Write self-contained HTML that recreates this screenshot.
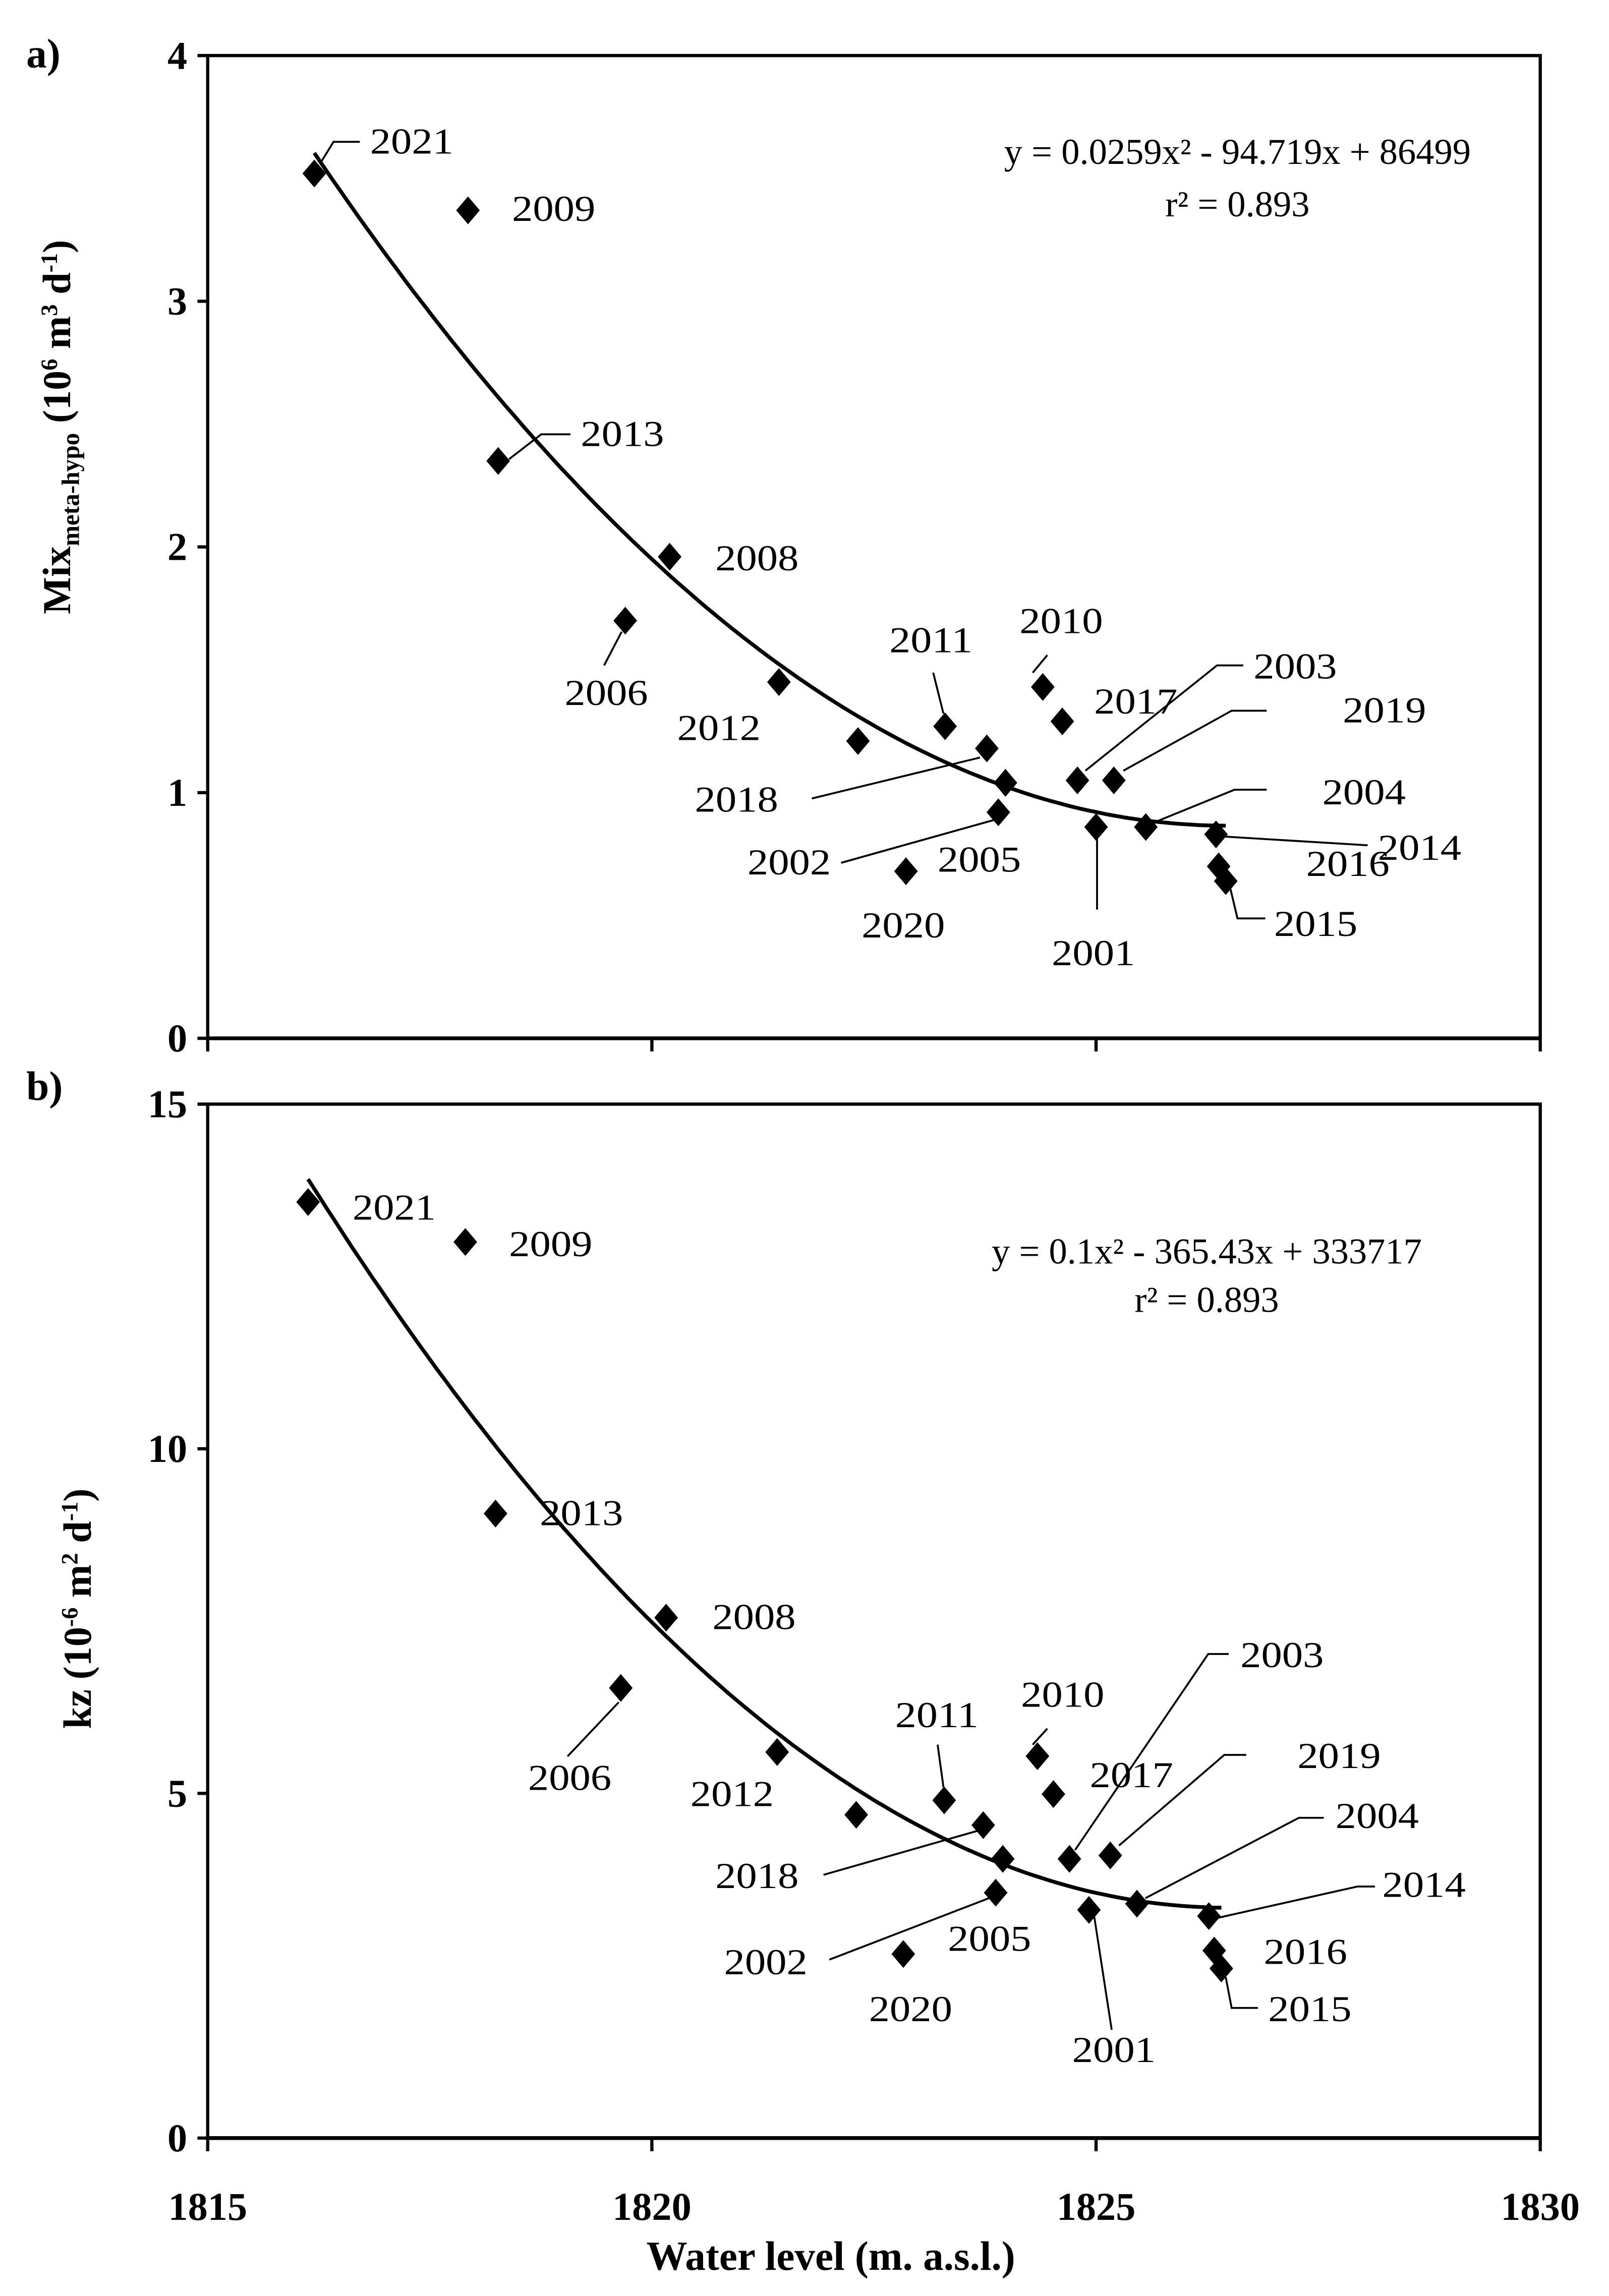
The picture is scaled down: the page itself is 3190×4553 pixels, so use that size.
<!DOCTYPE html>
<html><head><meta charset="utf-8"><style>
html,body{margin:0;padding:0;background:#fff}
svg{display:block}
text{font-family:"Liberation Serif",serif;fill:#000}
</style></head><body>
<svg id="chart" width="3190" height="4553" viewBox="0 0 1100 1570" xmlns="http://www.w3.org/2000/svg">
<g id="static" fill="none" stroke="#000" stroke-width="2.2">
<text x="18" y="46" font-size="28" font-weight="bold" stroke="none">a)</text>
<text x="18" y="752" font-size="28" font-weight="bold" stroke="none">b)</text>
</g>
<g id="gA"></g>
<g id="gB"></g>
</svg>
<script>
// x values (water level, m a.s.l.)
const years = ["2021","2009","2013","2008","2006","2012","u1","2011","2018","u2","2005","2020","2010","2017","2003","2019","2004","2001","2014","2016","2015"];
const xLevel = [1816.2,1817.93,1818.27,1820.2,1819.7,1821.43,1822.32,1823.3,1823.77,1823.98,1823.9,1822.86,1824.4,1824.62,1824.79,1825.2,1825.56,1825.0,1826.35,1826.38,1826.46];
const mixVals = [3.52,3.37,2.35,1.96,1.70,1.45,1.21,1.27,1.18,1.04,0.92,0.68,1.43,1.29,1.05,1.05,0.86,0.86,0.83,0.70,0.64];
const xLevelB = [1816.13,1817.9,1818.24,1820.16,1819.65,1821.41,1822.3,1823.29,1823.73,1823.95,1823.87,1822.83,1824.34,1824.52,1824.7,1825.16,1825.46,1824.92,1826.27,1826.33,1826.41];
const kzVals = [13.58,13.0,9.06,7.55,6.53,5.6,4.69,4.9,4.54,4.05,3.56,2.67,5.54,4.99,4.05,4.1,3.4,3.31,3.22,2.72,2.46];
const xTicks = [1815,1820,1825,1830];
const yTicksA = [0,1,2,3,4];
const yTicksB = [0,5,10,15];

const NS="http://www.w3.org/2000/svg";
function mk(parent,tag,attrs,txt){const e=document.createElementNS(NS,tag);for(const k in attrs)e.setAttribute(k,attrs[k]);if(txt!==undefined)e.textContent=txt;parent.appendChild(e);return e;}
const L=142,R=1053;
const xs=v=>L+(v-1815)/(1830-1815)*(R-L);

// layout of labels (pixel positions, not data)
const labA={"2021":[253,105,[[220,110],[228,97],[246,97]]],"2009":[350,151],"2013":[397,305,[[348,314],[370,297],[390,297]]],"2008":[489,390],"2006":[386,482,[[413,455],[425,432]]],"2012":[463,506],"2011":[608,446,[[638,460],[645,488]]],"2010":[697,433,[[706,460],[716,448]]],"2017":[748,488],"2003":[857,464,[[742,527],[832,455],[850,455]]],"2019":[918,494,[[768,527],[842,486],[866,486]]],"2004":[904,550,[[790,562],[844,540],[866,540]]],"2014":[942,588,[[836,572],[935,578]]],"2016":[893,599],"2015":[871,640,[[841,607],[846,628],[865,628]]],"2001":[719,660,[[750,568],[750,622]]],"2018":[475,555,[[555,546],[670,518]]],"2005":[641,596,[[575,590],[682,560]]],"2020":[589,641]};
const labA2={"2002":[511,598]};
const labB={"2021":[241,834],"2009":[348,859],"2013":[369,1043],"2008":[487,1114],"2006":[361,1224,[[388,1201],[423,1164]]],"2012":[472,1235],"2011":[612,1181,[[641,1193],[645,1222]]],"2010":[698,1167,[[706,1193],[716,1182]]],"2017":[745,1222],"2003":[848,1140,[[735,1265],[826,1131],[840,1131]]],"2019":[887,1209,[[765,1262],[837,1200],[852,1200]]],"2004":[913,1250,[[783,1298],[888,1243],[905,1243]]],"2014":[945,1297,[[830,1312],[928,1290],[940,1290]]],"2016":[864,1343],"2015":[867,1382,[[838,1352],[842,1373],[860,1373]]],"2001":[733,1410,[[748,1310],[760,1388]]],"2018":[489,1291,[[563,1282],[668,1252]]],"2005":[648,1334,[[567,1340],[676,1298]]],"2020":[594,1382]};
const labB2={"2002":[495,1350]};

function fit(xv,yv){ // least squares quadratic
  const m=xv.reduce((a,b)=>a+b,0)/xv.length;
  let S=[0,0,0,0,0],T=[0,0,0];
  xv.forEach((x,i)=>{const u=x-m;let p=1;for(let k=0;k<5;k++){S[k]+=p;if(k<3)T[k]+=p*yv[i];p*=u;}});
  const A=[[S[0],S[1],S[2],T[0]],[S[1],S[2],S[3],T[1]],[S[2],S[3],S[4],T[2]]];
  for(let i=0;i<3;i++){for(let j=i+1;j<3;j++){const f=A[j][i]/A[i][i];for(let k=i;k<4;k++)A[j][k]-=f*A[i][k];}}
  const c=[0,0,0];for(let i=2;i>=0;i--){let s=A[i][3];for(let k=i+1;k<3;k++)s-=A[i][k]*c[k];c[i]=s/A[i][i];}
  return x=>{const u=x-m;return c[0]+c[1]*u+c[2]*u*u;};
}

function panel(g,T,B,ymax,yt,xv,yv,lab,lab2,eq,eqY,ytitle,ytY,ytX,pfx){
  const ys=v=>B-v/ymax*(B-T);
  const ax=mk(g,'g',{stroke:'#000','stroke-width':2.2,fill:'none'});
  
  
  mk(ax,'path',{d:`M${L},${T}H${R}V${B}M${L},${T}V${B}`});
  mk(ax,'line',{x1:L-1,y1:B,x2:R+1,y2:B,'stroke-width':2.6});
  xTicks.forEach(t=>{const l=mk(ax,'line',{x1:xs(t),y1:B,x2:xs(t),y2:B+9});
    
    });
  yt.forEach(t=>{mk(ax,'line',{x1:L-7,y1:ys(t),x2:L,y2:ys(t)});
    const tx=mk(g,'text',{x:128,y:ys(t)+9,'font-size':27,'font-weight':'bold','text-anchor':'end'},String(t));
    
    });
  // trend
  const f=fit(xv,yv);const x0=Math.min(...xv),x1=Math.max(...xv);let d='';
  for(let i=0;i<=100;i++){const x=x0+(x1-x0)*i/100;d+=(i?'L':'M')+xs(x).toFixed(1)+','+ys(f(x)).toFixed(1);}
  const tr=mk(g,'path',{d:d,fill:'none',stroke:'#000','stroke-width':2.6});
  
  
  // labels
  const all=Object.assign({},lab,lab2);
  for(const k in all){const a=all[k];
    if(a[2]){const pl=mk(g,'polyline',{points:a[2].map(p=>p.join(',')).join(' '),fill:'none',stroke:'#000','stroke-width':1.3});
      
      }
    const t=mk(g,'text',{x:a[0],y:a[1],'font-size':25,textLength:57,lengthAdjust:'spacingAndGlyphs'},k);
    
    }
  // points
  xv.forEach((x,i)=>{const cx=xs(x),cy=ys(yv[i]),s=9.5;
    const p=mk(g,'path',{d:`M${cx},${cy-s}L${cx+s*0.85},${cy}L${cx},${cy+s}L${cx-s*0.85},${cy}Z`,fill:'#000'});
    
    });
  const e1=mk(g,'text',{x:eq[2],y:eqY[0],'font-size':25,'text-anchor':'middle'},eq[0]);
  
  
  const e2=mk(g,'text',{x:eq[2],y:eqY[1],'font-size':25,'text-anchor':'middle'},eq[1]);
  
  
  const yt2=mk(g,'text',{x:ytX,y:ytY,'font-size':27,'font-weight':'bold','text-anchor':'middle',transform:`rotate(-90 ${ytX} ${ytY})`});
  
  
  ytitle(yt2);
}
panel(document.getElementById('gA'),38,710,4,yTicksA,xLevel,mixVals,labA,labA2,
 ["y = 0.0259x² - 94.719x + 86499","r² = 0.893",846],[112,148],
 t=>{mk(t,'tspan',{},'Mix');mk(t,'tspan',{'font-size':17,dy:6},'meta-hypo');mk(t,'tspan',{dy:-6},' (10');mk(t,'tspan',{'font-size':16,dy:-9},'6');mk(t,'tspan',{dy:9},' m');mk(t,'tspan',{'font-size':16,dy:-9},'3');mk(t,'tspan',{dy:9},' d');mk(t,'tspan',{'font-size':16,dy:-9},'-1');mk(t,'tspan',{dy:9},')');},
 292,48,'a');
panel(document.getElementById('gB'),755,1462,15,yTicksB,xLevelB,kzVals,labB,labB2,
 ["y = 0.1x² - 365.43x + 333717","r² = 0.893",825],[864,897],
 t=>{mk(t,'tspan',{},'kz (10');mk(t,'tspan',{'font-size':16,dy:-9},'-6');mk(t,'tspan',{dy:9},' m');mk(t,'tspan',{'font-size':16,dy:-9},'2');mk(t,'tspan',{dy:9},' d');mk(t,'tspan',{'font-size':16,dy:-9},'-1');mk(t,'tspan',{dy:9},')');},
 1100,62,'b');
const svg=document.getElementById('chart');
xTicks.forEach(t=>{const e=mk(svg,'text',{x:xs(t),y:1518,'font-size':27,'font-weight':'bold','text-anchor':'middle'},String(t));
  
  });
const xt=mk(svg,'text',{x:568,y:1552,'font-size':28,'font-weight':'bold','text-anchor':'middle'},'Water level (m. a.s.l.)');


</script>
</body></html>
